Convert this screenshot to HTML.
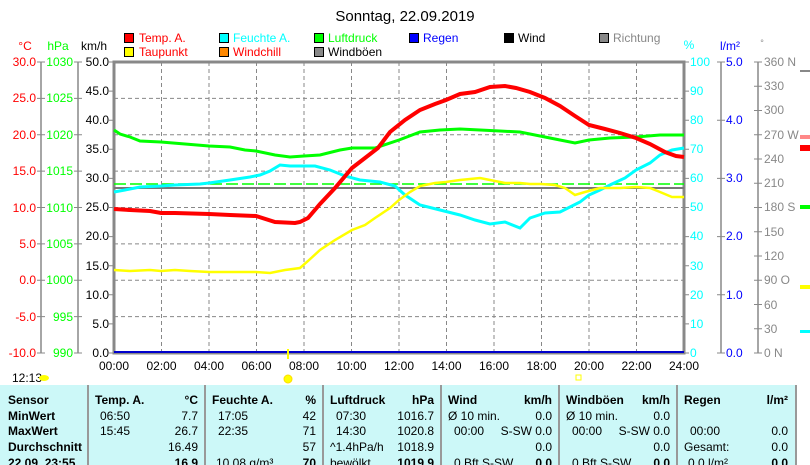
<!DOCTYPE html>
<html><head><meta charset="utf-8"><style>
body{margin:0;background:#fff;width:810px;height:465px;overflow:hidden;font-family:"Liberation Sans",sans-serif}
svg{position:absolute;left:0;top:0}
</style></head><body>
<svg width="810" height="465" xmlns="http://www.w3.org/2000/svg" font-family="Liberation Sans, sans-serif" font-size="12">
<text x="405" y="21" text-anchor="middle" font-size="15" fill="#000">Sonntag, 22.09.2019</text>
<!-- legend -->
<g font-size="12">
<rect x="124.5" y="33.5" width="9" height="9" fill="#f00" stroke="#000"/><text x="139" y="42" fill="#f00">Temp. A.</text>
<rect x="124.5" y="47.5" width="9" height="9" fill="#ff0" stroke="#000"/><text x="139" y="56" fill="#f00">Taupunkt</text>
<rect x="219.5" y="33.5" width="9" height="9" fill="#0ff" stroke="#000"/><text x="233" y="42" fill="#0ff">Feuchte A.</text>
<rect x="219.5" y="47.5" width="9" height="9" fill="#f80" stroke="#000"/><text x="233" y="56" fill="#f00">Windchill</text>
<rect x="314.5" y="33.5" width="9" height="9" fill="#0f0" stroke="#000"/><text x="328" y="42" fill="#0f0">Luftdruck</text>
<rect x="314.5" y="47.5" width="9" height="9" fill="#888" stroke="#000"/><text x="328" y="56" fill="#000">Windböen</text>
<rect x="409.5" y="33.5" width="9" height="9" fill="#00f" stroke="#000"/><text x="423" y="42" fill="#00f">Regen</text>
<rect x="504.5" y="33.5" width="9" height="9" fill="#000" stroke="#000"/><text x="518" y="42" fill="#000">Wind</text>
<rect x="599.5" y="33.5" width="9" height="9" fill="#888" stroke="#000"/><text x="613" y="42" fill="#888">Richtung</text>
</g>
<!-- axis titles -->
<text x="25" y="50" text-anchor="middle" fill="#f00">°C</text>
<text x="58" y="50" text-anchor="middle" fill="#0f0">hPa</text>
<text x="94" y="50" text-anchor="middle" fill="#000">km/h</text>
<text x="689" y="49" text-anchor="middle" fill="#0ff">%</text>
<text x="730" y="50" text-anchor="middle" fill="#00f">l/m²</text>
<text x="762" y="46" text-anchor="middle" fill="#888" font-size="9">°</text>
<!-- axis lines -->
<g stroke="#888" stroke-width="1.5">
<line x1="41" y1="62" x2="41" y2="353"/><line x1="78" y1="62" x2="78" y2="353"/>
<line x1="721" y1="62" x2="721" y2="353"/><line x1="758" y1="62" x2="758" y2="353"/>
</g>
<g id="ticks" stroke="#888" stroke-width="1">
<path d="M37 62h8M37 98.4h8M37 134.8h8M37 171.1h8M37 207.5h8M37 243.9h8M37 280.3h8M37 316.6h8M37 353h8"/>
<path d="M74 62h8M74 98.4h8M74 134.8h8M74 171.1h8M74 207.5h8M74 243.9h8M74 280.3h8M74 316.6h8M74 353h8"/>
<path d="M109 62h5M109 91.1h5M109 120.2h5M109 149.3h5M109 178.4h5M109 207.5h5M109 236.6h5M109 265.7h5M109 294.8h5M109 323.9h5M109 353h5"/>
<path d="M684 62h5M684 91.1h5M684 120.2h5M684 149.3h5M684 178.4h5M684 207.5h5M684 236.6h5M684 265.7h5M684 294.8h5M684 323.9h5M684 353h5"/>
<path d="M717 62h8M717 120.2h8M717 178.4h8M717 236.6h8M717 294.8h8M717 353h8"/>
<path d="M754 62h8M754 86.3h8M754 110.5h8M754 134.8h8M754 159h8M754 183.3h8M754 207.5h8M754 231.8h8M754 256h8M754 280.3h8M754 304.5h8M754 328.8h8M754 353h8"/>
</g>
<g text-anchor="end" fill="#f00">
<text x="36" y="66">30.0</text><text x="36" y="102">25.0</text><text x="36" y="139">20.0</text><text x="36" y="175">15.0</text><text x="36" y="212">10.0</text><text x="36" y="248">5.0</text><text x="36" y="284">0.0</text><text x="36" y="321">-5.0</text><text x="36" y="357">-10.0</text>
</g>
<g text-anchor="end" fill="#0f0">
<text x="73" y="66">1030</text><text x="73" y="102">1025</text><text x="73" y="139">1020</text><text x="73" y="175">1015</text><text x="73" y="212">1010</text><text x="73" y="248">1005</text><text x="73" y="284">1000</text><text x="73" y="321">995</text><text x="73" y="357">990</text>
</g>
<g text-anchor="end" fill="#000">
<text x="109" y="66">50.0</text><text x="109" y="95">45.0</text><text x="109" y="124">40.0</text><text x="109" y="153">35.0</text><text x="109" y="182">30.0</text><text x="109" y="211">25.0</text><text x="109" y="240">20.0</text><text x="109" y="270">15.0</text><text x="109" y="299">10.0</text><text x="109" y="328">5.0</text><text x="109" y="357">0.0</text>
</g>
<g fill="#0ff">
<text x="690" y="66">100</text><text x="690" y="95">90</text><text x="690" y="124">80</text><text x="690" y="153">70</text><text x="690" y="182">60</text><text x="690" y="211">50</text><text x="690" y="240">40</text><text x="690" y="270">30</text><text x="690" y="299">20</text><text x="690" y="328">10</text><text x="690" y="357">0</text>
</g>
<g fill="#00f">
<text x="726" y="66">5.0</text><text x="726" y="124">4.0</text><text x="726" y="182">3.0</text><text x="726" y="240">2.0</text><text x="726" y="299">1.0</text><text x="726" y="357">0.0</text>
</g>
<g fill="#888">
<text x="764" y="66">360 N</text><text x="764" y="90">330</text><text x="764" y="114">300</text><text x="764" y="139">270 W</text><text x="764" y="163">240</text><text x="764" y="187">210</text><text x="764" y="211">180 S</text><text x="764" y="236">150</text><text x="764" y="260">120</text><text x="764" y="284">90  O</text><text x="764" y="309">60</text><text x="764" y="333">30</text><text x="764" y="357">0   N</text>
</g>
<!-- grid -->
<g stroke="#888" stroke-dasharray="4,3" stroke-width="1">
<path d="M114 98.4h570M114 134.8h570M114 171.1h570M114 207.5h570M114 243.9h570M114 280.3h570M114 316.6h570"/>
<path d="M161.5 62v291M209 62v291M256.5 62v291M304 62v291M351.5 62v291M399 62v291M446.5 62v291M494 62v291M541.5 62v291M589 62v291M636.5 62v291"/>
</g>
<rect x="114" y="62" width="570" height="291" fill="none" stroke="#888" stroke-width="3"/>
<g fill="#000" text-anchor="middle">
<text x="114" y="370">00:00</text><text x="161.5" y="370">02:00</text><text x="209" y="370">04:00</text><text x="256.5" y="370">06:00</text><text x="304" y="370">08:00</text><text x="351.5" y="370">10:00</text><text x="399" y="370">12:00</text><text x="446.5" y="370">14:00</text><text x="494" y="370">16:00</text><text x="541.5" y="370">18:00</text><text x="589" y="370">20:00</text><text x="636.5" y="370">22:00</text><text x="684" y="370">24:00</text>
</g>
<!-- series -->
<line x1="114" y1="184" x2="684" y2="184" stroke="#0f0" stroke-dasharray="12,4" stroke-width="1.5"/>
<line x1="114" y1="188" x2="684" y2="188" stroke="#777" stroke-width="2"/>
<line x1="114" y1="352" x2="684" y2="352" stroke="#00c" stroke-width="2"/>
<polyline fill="none" stroke="#0f0" stroke-width="3" points="114,130 120,134 130,137 140,141 161,142 185,144 209,146 230,147 245,150 256,151 275,155 290,157 304,156 320,155 340,150 352,148 375,148 399,140 420,132 440,130 460,129 480,130 500,131 520,132 540,136 560,140 575,143 589,140 610,138 636,137 660,135 684,135"/>
<polyline fill="none" stroke="#0ff" stroke-width="3" points="114,192 125,190 140,187 161,186 175,185 200,184 209,183 230,180 250,177 260,175 270,171 280,165 290,166 304,166 315,166 330,170 345,176 360,180 380,182 395,186 405,195 420,205 440,210 460,215 475,220 490,224 505,222 520,228 530,218 545,213 560,212 570,207 580,202 589,195 600,190 612,184 625,178 636,170 650,163 660,155 672,150 684,148"/>
<polyline fill="none" stroke="#f00" stroke-width="4" points="114,209 130,210 150,211 161,213 175,213 209,214 230,215 256,216 275,222 295,223 300,222 308,218 320,204 335,188 352,168 365,158 378,148 390,132 405,120 420,110 435,104 446,100 460,94 475,92 490,87 505,86 516,88 530,92 545,98 560,106 575,116 589,125 605,129 620,133 636,138 650,144 665,152 676,156 684,157"/>
<polyline fill="none" stroke="#ff0" stroke-width="2.5" points="114,270 130,271 150,270 161,271 175,270 190,271 209,272 230,272 256,272 270,273 285,270 300,268 308,261 320,250 335,240 352,230 365,225 375,218 390,208 399,200 410,192 420,186 435,183 446,182 460,180 470,179 480,178 490,180 505,183 520,183 530,184 541,184 555,185 565,188 575,195 585,192 600,188 620,188 636,187 650,188 660,192 672,197 684,197"/>
<rect x="287" y="349" width="2" height="10" fill="#ff0"/>
<!-- bottom status -->
<text x="12" y="382" fill="#000">12:13</text>
<ellipse cx="44" cy="378" rx="5" ry="3" fill="#ff0"/>
<circle cx="288" cy="379" r="4" fill="#ff0" stroke="#fd0"/>
<rect x="576" y="375" width="5" height="5" fill="none" stroke="#ff0"/>
<!-- right side small marks -->
<rect x="800" y="70" width="10" height="2" fill="#888"/>
<rect x="800" y="135" width="10" height="4" fill="#f88"/>
<rect x="800" y="145" width="10" height="6" fill="#f00"/>
<rect x="800" y="205" width="10" height="4" fill="#0f0"/>
<rect x="800" y="285" width="10" height="4" fill="#ff0"/>
<rect x="800" y="330" width="10" height="3" fill="#0ff"/>
</svg>
<div style="position:absolute;left:0;top:385px;width:796px;height:80px;background:#ccf8f8"></div>
<svg width="810" height="465" style="position:absolute;left:0;top:0" font-family="Liberation Sans, sans-serif" font-size="12">
<g stroke="#999" stroke-width="2">
<path d="M88 385v80M205 385v80M323 385v80M441 385v80M559 385v80M677 385v80M796 385v80"/>
</g>
<g font-weight="bold" fill="#000">
<text x="8" y="404">Sensor</text><text x="8" y="420">MinWert</text><text x="8" y="435">MaxWert</text><text x="8" y="451">Durchschnitt</text><text x="8" y="467">22.09. 23:55</text>
<text x="95" y="404">Temp. A.</text><text x="198" y="404" text-anchor="end">°C</text>
<text x="212" y="404">Feuchte A.</text><text x="316" y="404" text-anchor="end">%</text>
<text x="330" y="404">Luftdruck</text><text x="434" y="404" text-anchor="end">hPa</text>
<text x="448" y="404">Wind</text><text x="552" y="404" text-anchor="end">km/h</text>
<text x="566" y="404">Windböen</text><text x="670" y="404" text-anchor="end">km/h</text>
<text x="684" y="404">Regen</text><text x="788" y="404" text-anchor="end">l/m²</text>
<text x="198" y="467" text-anchor="end">16.9</text><text x="316" y="467" text-anchor="end">70</text><text x="434" y="467" text-anchor="end">1019.9</text><text x="552" y="467" text-anchor="end">0.0</text><text x="670" y="467" text-anchor="end">0.0</text><text x="788" y="467" text-anchor="end">0.0</text>
</g>
<g fill="#000">
<text x="100" y="420">06:50</text><text x="198" y="420" text-anchor="end">7.7</text>
<text x="100" y="435">15:45</text><text x="198" y="435" text-anchor="end">26.7</text>
<text x="198" y="451" text-anchor="end">16.49</text>
<text x="218" y="420">17:05</text><text x="316" y="420" text-anchor="end">42</text>
<text x="218" y="435">22:35</text><text x="316" y="435" text-anchor="end">71</text>
<text x="316" y="451" text-anchor="end">57</text>
<text x="216" y="467">10.08 g/m³</text>
<text x="336" y="420">07:30</text><text x="434" y="420" text-anchor="end">1016.7</text>
<text x="336" y="435">14:30</text><text x="434" y="435" text-anchor="end">1020.8</text>
<text x="330" y="451">^1.4hPa/h</text><text x="434" y="451" text-anchor="end">1018.9</text>
<text x="330" y="467">bewölkt</text>
<text x="448" y="420">Ø 10 min.</text><text x="552" y="420" text-anchor="end">0.0</text>
<text x="454" y="435">00:00</text><text x="552" y="435" text-anchor="end">S-SW 0.0</text>
<text x="552" y="451" text-anchor="end">0.0</text><text x="454" y="467">0 Bft S-SW</text>
<text x="566" y="420">Ø 10 min.</text><text x="670" y="420" text-anchor="end">0.0</text>
<text x="572" y="435">00:00</text><text x="670" y="435" text-anchor="end">S-SW 0.0</text>
<text x="670" y="451" text-anchor="end">0.0</text><text x="572" y="467">0 Bft S-SW</text>
<text x="690" y="435">00:00</text><text x="788" y="435" text-anchor="end">0.0</text>
<text x="684" y="451">Gesamt:</text><text x="788" y="451" text-anchor="end">0.0</text>
<text x="688" y="467">0.0 l/m²</text>
</g>
</svg>
</body></html>
